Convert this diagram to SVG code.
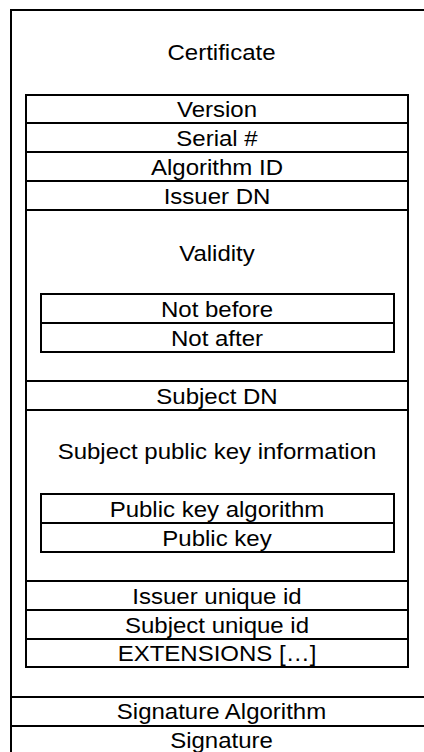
<svg xmlns="http://www.w3.org/2000/svg" width="424" height="752" viewBox="0 0 424 752">
  <style>
    .box { fill: none; stroke: #000; stroke-width: 2; }
    /* labels are set at 22.5px and widened horizontally to an extended face */
    .lbl { font-family: "Liberation Sans", Arial, sans-serif; font-size: 22.5px; fill: #000; text-anchor: middle; }
  </style>
  <rect width="424" height="752" fill="#fff"/>

  <!-- outer certificate frame (runs past the right and bottom edges) -->
  <g id="certificate">
    <rect class="box" x="11" y="10" width="422" height="760"/>
    <text class="lbl" transform="translate(221.5 60) scale(1.067 1)">Certificate</text>
  </g>

  <!-- to-be-signed body -->
  <g id="tbs">
    <rect class="box" x="26" y="95" width="382" height="572"/>
  </g>
  <g id="version">
    <line class="box" x1="26" y1="123" x2="408" y2="123"/>
    <text class="lbl" transform="translate(217 117) scale(1.067 1)">Version</text>
  </g>
  <g id="serial">
    <line class="box" x1="26" y1="152" x2="408" y2="152"/>
    <text class="lbl" transform="translate(217 146) scale(1.067 1)">Serial #</text>
  </g>
  <g id="algorithm-id">
    <line class="box" x1="26" y1="181" x2="408" y2="181"/>
    <text class="lbl" transform="translate(217 175) scale(1.067 1)">Algorithm ID</text>
  </g>
  <g id="issuer-dn">
    <line class="box" x1="26" y1="210" x2="408" y2="210"/>
    <text class="lbl" transform="translate(217 204) scale(1.067 1)">Issuer DN</text>
  </g>
  <g id="validity">
    <line class="box" x1="26" y1="381" x2="408" y2="381"/>
    <text class="lbl" transform="translate(217 260.5) scale(1.067 1)">Validity</text>
  </g>
  <g id="not-before">
    <rect class="box" x="41" y="294" width="353" height="58"/>
    <line class="box" x1="41" y1="323" x2="394" y2="323"/>
    <text class="lbl" transform="translate(217 316.5) scale(1.067 1)">Not before</text>
  </g>
  <g id="not-after">
    <text class="lbl" transform="translate(217 345.5) scale(1.067 1)">Not after</text>
  </g>
  <g id="subject-dn">
    <line class="box" x1="26" y1="410" x2="408" y2="410"/>
    <text class="lbl" transform="translate(217 404) scale(1.067 1)">Subject DN</text>
  </g>
  <g id="spki">
    <line class="box" x1="26" y1="581" x2="408" y2="581"/>
    <text class="lbl" transform="translate(217 459) scale(1.067 1)">Subject public key information</text>
  </g>
  <g id="pk-algorithm">
    <rect class="box" x="41" y="494" width="353" height="58"/>
    <line class="box" x1="41" y1="523" x2="394" y2="523"/>
    <text class="lbl" transform="translate(217 517) scale(1.067 1)">Public key algorithm</text>
  </g>
  <g id="public-key">
    <text class="lbl" transform="translate(217 546) scale(1.067 1)">Public key</text>
  </g>
  <g id="issuer-uid">
    <line class="box" x1="26" y1="610" x2="408" y2="610"/>
    <text class="lbl" transform="translate(217 604) scale(1.067 1)">Issuer unique id</text>
  </g>
  <g id="subject-uid">
    <line class="box" x1="26" y1="639" x2="408" y2="639"/>
    <text class="lbl" transform="translate(217 632.5) scale(1.067 1)">Subject unique id</text>
  </g>
  <g id="extensions">
    <text class="lbl" transform="translate(217 661) scale(1.067 1)">EXTENSIONS […]</text>
  </g>

  <!-- signature fields below the body -->
  <g id="signature-algorithm">
    <line class="box" x1="11" y1="697" x2="433" y2="697"/>
    <text class="lbl" transform="translate(221.5 719) scale(1.067 1)">Signature Algorithm</text>
  </g>
  <g id="signature">
    <line class="box" x1="11" y1="726" x2="433" y2="726"/>
    <text class="lbl" transform="translate(221.5 748) scale(1.067 1)">Signature</text>
  </g>
</svg>
